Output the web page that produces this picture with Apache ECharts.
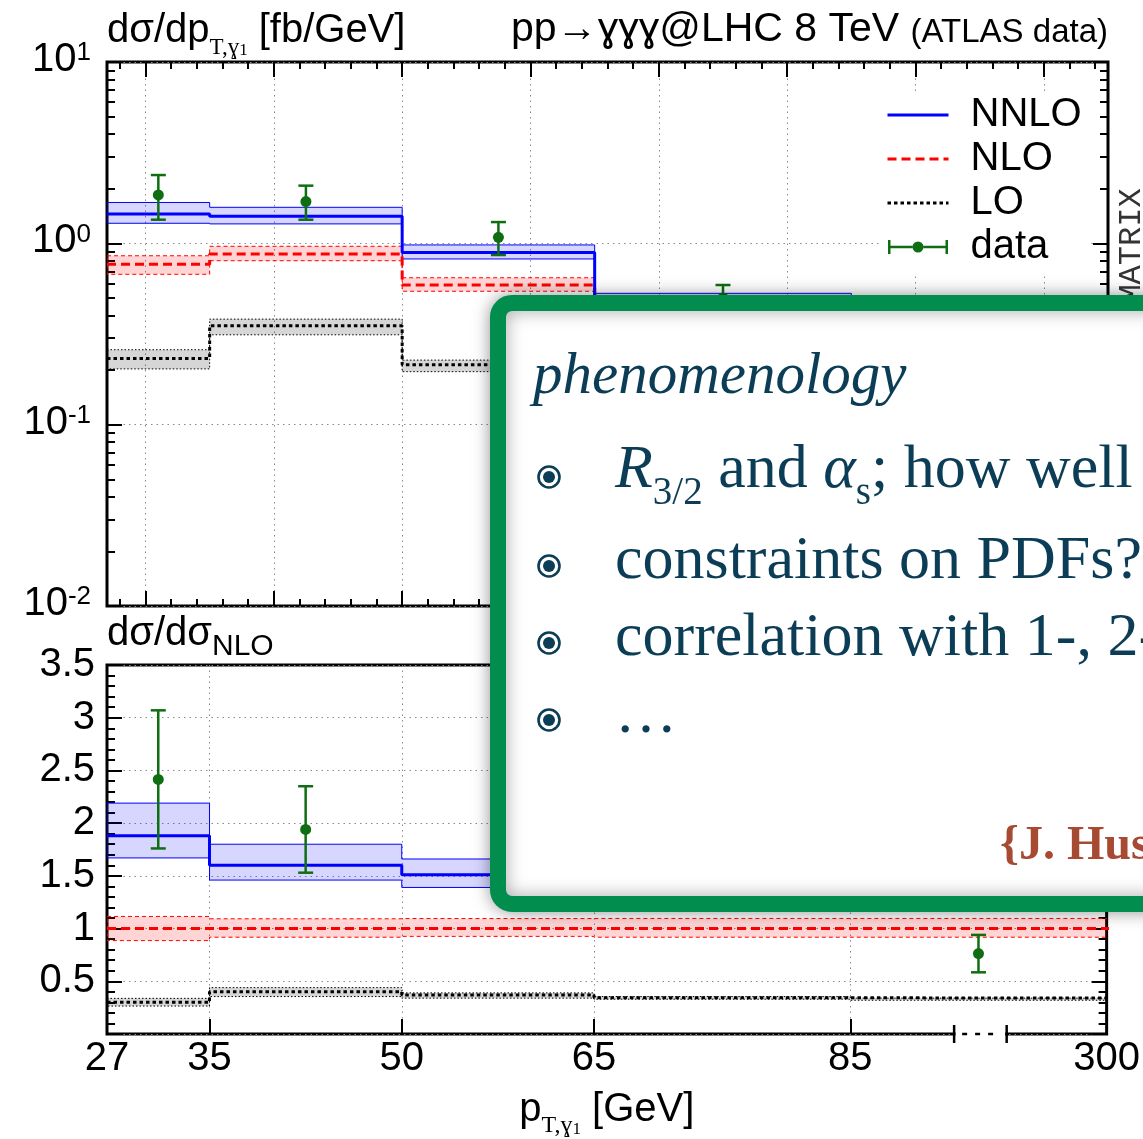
<!DOCTYPE html>
<html><head><meta charset="utf-8">
<script src="https://cdn.jsdelivr.net/npm/echarts@6/dist/echarts.min.js"></script>
<style>html,body{margin:0;padding:0;background:#fff}#c{width:1143px;height:1139px}</style>
</head><body><div id="c"></div><script>
// ---------------- data ----------------
const binEdges = [27, 35, 50, 65, 85, 300];
const dataX = [31, 42.5, 57.5, 75, 95];

// upper panel: d sigma / d pT [fb/GeV]
const nnlo   = [1.45, 1.41, 0.89, 0.48, 0.070];
const nnloLo = [1.29, 1.28, 0.82, 0.44, 0.063];
const nnloHi = [1.68, 1.58, 0.98, 0.53, 0.078];
const nlo    = [0.766, 0.873, 0.589, 0.33, 0.052];
const nloLo  = [0.675, 0.802, 0.544, 0.30, 0.047];
const nloHi  = [0.854, 0.963, 0.646, 0.36, 0.057];
const lo     = [0.232, 0.351, 0.214, 0.113, 0.017];
const loLo   = [0.203, 0.313, 0.196, 0.105, 0.0155];
const loHi   = [0.259, 0.382, 0.227, 0.121, 0.0185];
const dat    = [1.85, 1.70, 1.08, 0.50, 0.040];
const datLo  = [1.35, 1.35, 0.862, 0.42, 0.030];
const datHi  = [2.38, 2.08, 1.31, 0.589, 0.049];

// lower panel: ratio to NLO
const rNnlo   = [1.88, 1.60, 1.51, 1.45, 1.35];
const rNnloLo = [1.67, 1.46, 1.39, 1.33, 1.25];
const rNnloHi = [2.19, 1.80, 1.66, 1.59, 1.50];
const rNlo    = [1, 1, 1, 1, 1];
const rNloLo  = [0.886, 0.918, 0.926, 0.918, 0.918];
const rNloHi  = [1.115, 1.093, 1.095, 1.096, 1.096];
const rLo     = [0.30, 0.40, 0.37, 0.343, 0.33];
const rLoLo   = [0.265, 0.355, 0.34, 0.33, 0.32];
const rLoHi   = [0.338, 0.44, 0.39, 0.355, 0.34];
const rDat    = [2.415, 1.94, 1.83, 1.52, 0.763];
const rDatLo  = [1.76, 1.53, 1.45, 1.27, 0.585];
const rDatHi  = [3.07, 2.35, 2.22, 1.78, 0.94];

// ticks
const xRange = [27, 105];
const topMajorX = [30, 40, 50, 60, 70, 80, 90, 100];
const topMinorX = [28, 30, 32, 34, 36, 38, 40, 42, 44, 46, 48, 50, 52, 54, 56, 58, 60, 62, 64, 66, 68, 70, 72, 74, 76, 78, 80, 82, 84, 86, 88, 90, 92, 94, 96, 98, 100, 102, 104];
const logMajorY = [0.01, 0.1, 1, 10];
const logMajorLabels = ['-2', '-1', '0', '1'];
const logMinorY = [0.02, 0.03, 0.04, 0.05, 0.06, 0.07, 0.08, 0.09, 0.2, 0.3, 0.4, 0.5, 0.6, 0.7, 0.8, 0.9, 2, 3, 4, 5, 6, 7, 8, 9];
const ratioTickY = [0.5, 1, 1.5, 2, 2.5, 3, 3.5];
const ratioTickLabels = ['0.5', '1', '1.5', '2', '2.5', '3', '3.5'];
const botTickX = [35, 50, 65, 85];
const botLabelX = [27, 35, 50, 65, 85, 105];
const botLabelText = ['27', '35', '50', '65', '85', '300'];
const axisBreakAt = [93.1, 97.2];

// ---------------- style ----------------
const SANS = 'Liberation Sans', SERIF = 'Liberation Serif';
const BLUE = '#0000ff', RED = '#ff0000', BLACK = '#000000', GREEN = '#0f6e12';
const TEAL = '#0c3d56';
const gridLine = { color: '#8a8a8a', width: 1, type: [1.5, 4] };
const TICK = { color: '#000', width: 2 };

function xAx(grid, pos, ticks, len, split, extra) {
  return Object.assign({
    type: 'value', gridIndex: grid, position: pos, min: xRange[0], max: xRange[1],
    axisLine: { show: false, onZero: false },
    axisLabel: { show: false },
    axisTick: { show: true, inside: true, length: len, customValues: ticks, lineStyle: TICK },
    splitLine: { show: split, lineStyle: gridLine },
    minorTick: { show: false }
  }, extra || {});
}
function yLog(pos, ticks, len, split, extra) {
  return Object.assign({
    type: 'log', logBase: 10, gridIndex: 0, position: pos, min: 0.01, max: 10,
    axisLine: { show: false, onZero: false },
    axisLabel: { show: false },
    axisTick: { show: true, inside: true, length: len, customValues: ticks, lineStyle: TICK },
    splitLine: { show: split, lineStyle: gridLine },
    minorTick: { show: false }
  }, extra || {});
}
function yRatio(pos, labels) {
  return {
    type: 'value', gridIndex: 1, position: pos, min: 0, max: 3.5, interval: 0.5,
    axisLine: { show: false, onZero: false },
    axisTick: { show: true, inside: true, length: 15, lineStyle: TICK },
    minorTick: { show: true, splitNumber: 5, length: 8, lineStyle: TICK },
    splitLine: { show: labels, lineStyle: gridLine },
    axisLabel: labels ? {
      show: true, customValues: ratioTickY, margin: 12, fontFamily: SANS, fontSize: 40, color: '#000',
      formatter: v => { const i = ratioTickY.findIndex(t => Math.abs(t - v) < 1e-9); return i >= 0 ? ratioTickLabels[i] : ''; }
    } : { show: false }
  };
}

function stepPts(vals) {
  const pts = vals.map((v, i) => [binEdges[i], v]);
  pts.push([binEdges[binEdges.length - 1], vals[vals.length - 1]]);
  return pts;
}
function lineSeries(name, vals, axi, color, type) {
  return {
    name, type: 'line', xAxisIndex: axi[0], yAxisIndex: axi[1], data: stepPts(vals), step: 'end',
    symbol: 'none', showSymbol: false, clip: true, z: 4, silent: true, animation: false,
    lineStyle: { color, width: 3, type, cap: 'butt' }, itemStyle: { color }
  };
}
function bandSeries(name, loV, hiV, axi, stroke, fill, dash) {
  return {
    name, type: 'custom', xAxisIndex: axi[0], yAxisIndex: axi[1], clip: true, z: 3, silent: true,
    data: [[binEdges[0], loV[0]]],
    renderItem: (p, api) => {
      const pts = [];
      for (let i = 0; i < hiV.length; i++) { pts.push(api.coord([binEdges[i], hiV[i]])); pts.push(api.coord([binEdges[i + 1], hiV[i]])); }
      for (let i = loV.length - 1; i >= 0; i--) { pts.push(api.coord([binEdges[i + 1], loV[i]])); pts.push(api.coord([binEdges[i], loV[i]])); }
      return { type: 'polygon', shape: { points: pts }, style: { fill, stroke, lineWidth: 1, lineDash: dash || null } };
    }
  };
}
function errSeries(vals, loV, hiV, axi) {
  return {
    name: 'data', type: 'custom', xAxisIndex: axi[0], yAxisIndex: axi[1], clip: true, z: 5, silent: true,
    itemStyle: { color: GREEN },
    encode: { x: 0, y: [1, 2, 3] },
    data: dataX.map((x, i) => [x, vals[i], loV[i], hiV[i]]),
    renderItem: (p, api) => {
      const c = api.coord([api.value(0), api.value(1)]);
      const l = api.coord([api.value(0), api.value(2)]);
      const h = api.coord([api.value(0), api.value(3)]);
      const cw = 7.5, st = { stroke: GREEN, lineWidth: 2.5 };
      return { type: 'group', children: [
        { type: 'line', shape: { x1: c[0], y1: l[1], x2: c[0], y2: h[1] }, style: st },
        { type: 'line', shape: { x1: c[0] - cw, y1: h[1], x2: c[0] + cw, y2: h[1] }, style: st },
        { type: 'line', shape: { x1: c[0] - cw, y1: l[1], x2: c[0] + cw, y2: l[1] }, style: st },
        { type: 'circle', shape: { cx: c[0], cy: c[1], r: 5.5 }, style: { fill: GREEN } }
      ] };
    }
  };
}

const TOP = [0, 0], BOT = [4, 4];
const series = [
  bandSeries('LO band', loLo, loHi, TOP, BLACK, 'rgba(0,0,0,0.16)', [1.5, 2]),
  bandSeries('NLO band', nloLo, nloHi, TOP, RED, 'rgba(255,0,0,0.17)', [4, 3]),
  bandSeries('NNLO band', nnloLo, nnloHi, TOP, BLUE, 'rgba(0,0,255,0.16)', null),
  lineSeries('LO', lo, TOP, BLACK, [3.5, 3]),
  lineSeries('NLO', nlo, TOP, RED, [9, 5]),
  lineSeries('NNLO', nnlo, TOP, BLUE, 'solid'),
  errSeries(dat, datLo, datHi, TOP),
  bandSeries('LO ratio band', rLoLo, rLoHi, BOT, BLACK, 'rgba(0,0,0,0.16)', [1.5, 2]),
  bandSeries('NLO ratio band', rNloLo, rNloHi, BOT, RED, 'rgba(255,0,0,0.17)', [4, 3]),
  bandSeries('NNLO ratio band', rNnloLo, rNnloHi, BOT, BLUE, 'rgba(0,0,255,0.16)', null),
  lineSeries('LO', rLo, BOT, BLACK, [3.5, 3]),
  lineSeries('NLO', rNlo, BOT, RED, [9, 5]),
  lineSeries('NNLO', rNnlo, BOT, BLUE, 'solid'),
  errSeries(rDat, rDatLo, rDatHi, BOT),
  { // axis break marker on the lower x axis
    name: 'axis break', type: 'custom', xAxisIndex: 4, yAxisIndex: 4, clip: false, z: 6, silent: true,
    data: [[axisBreakAt[0], 0, axisBreakAt[1]]],
    renderItem: (p, api) => {
      const a = api.coord([api.value(0), 0]), b = api.coord([api.value(2), 0]);
      const st = { stroke: '#000', lineWidth: 2.5 };
      return { type: 'group', children: [
        { type: 'rect', shape: { x: a[0] + 1.5, y: a[1] - 3, width: b[0] - a[0] - 3, height: 6 }, style: { fill: '#fff' } },
        { type: 'line', shape: { x1: a[0] + 8, y1: a[1], x2: b[0] - 6, y2: b[1] }, style: { stroke: '#000', lineWidth: 2.5, lineDash: [5, 8] } },
        { type: 'line', shape: { x1: a[0], y1: a[1] - 9, x2: a[0], y2: a[1] + 9 }, style: st },
        { type: 'line', shape: { x1: b[0], y1: b[1] - 9, x2: b[0], y2: b[1] + 9 }, style: st }
      ] };
    }
  }
];

const subSerif = (fs, pad) => ({ fontFamily: SERIF, fontSize: fs, lineHeight: fs, padding: [pad, 0, 0, 0], verticalAlign: 'top', fill: '#000', color: '#000' });
const mainSans = (fs, lh) => ({ fontFamily: SANS, fontSize: fs, lineHeight: lh, verticalAlign: 'top', fill: '#000', color: '#000' });

const boxText = (txt, x, y, extra) => ({
  type: 'text', z: 101, x, y, silent: true,
  style: Object.assign({ text: txt, fill: TEAL, font: '62px "Liberation Serif"', align: 'left', verticalAlign: 'middle' }, extra || {})
});
const bullet = (cy) => ({
  type: 'group', z: 101, silent: true, children: [
    { type: 'circle', z: 101, shape: { cx: 549, cy, r: 10.5 }, style: { fill: '#fff', stroke: TEAL, lineWidth: 2.6 } },
    { type: 'circle', z: 102, shape: { cx: 549, cy, r: 6 }, style: { fill: TEAL } }
  ]
});
const hideSym = { opacity: 0, color: 'rgba(0,0,0,0)', borderWidth: 0 };

const option = {
  animation: false,
  backgroundColor: '#fff',
  grid: [
    { left: 107, top: 62, right: 35, height: 544, show: true, borderColor: '#000', borderWidth: 3, backgroundColor: 'transparent' },
    { left: 107, top: 665, right: 35, height: 371, show: true, borderColor: '#000', borderWidth: 3, backgroundColor: 'transparent' }
  ],
  xAxis: [
    xAx(0, 'bottom', topMajorX, 15, true),
    xAx(0, 'bottom', topMinorX, 7, false),
    xAx(0, 'top', topMajorX, 15, false),
    xAx(0, 'top', topMinorX, 7, false),
    xAx(1, 'bottom', botTickX, 15, true, {
      axisLabel: {
        show: true, customValues: botLabelX, margin: 5, fontFamily: SANS, fontSize: 40, color: '#000',
        formatter: v => { const i = botLabelX.findIndex(t => Math.abs(t - v) < 1e-9); return i >= 0 ? botLabelText[i] : ''; }
      },
      name: '{m|p}{sb|T,ɣ}{ss|1}{m| [GeV]}', nameLocation: 'middle', nameGap: 56,
      nameTextStyle: { rich: { m: mainSans(40, 42), sb: subSerif(24, 24), ss: subSerif(17, 31) } }
    })
  ],
  yAxis: [
    yLog('left', logMajorY, 15, true, {
      axisLabel: {
        show: true, customValues: logMajorY, margin: 16, color: '#000',
        formatter: v => { const i = logMajorY.findIndex(t => Math.abs(Math.log10(t) - Math.log10(v)) < 1e-6); return i >= 0 ? '{b|10}{s|' + logMajorLabels[i] + '}' : ''; },
        rich: { b: { fontFamily: SANS, fontSize: 40, lineHeight: 44, verticalAlign: 'top', color: '#000' },
                s: { fontFamily: SANS, fontSize: 26, lineHeight: 26, verticalAlign: 'top', color: '#000' } }
      }
    }),
    yLog('left', logMinorY, 8, false),
    yLog('right', logMajorY, 15, false),
    yLog('right', logMinorY, 8, false),
    yRatio('left', true),
    yRatio('right', false)
  ],
  legend: {
    show: true, orient: 'vertical', left: 880, top: 91, itemWidth: 61, itemHeight: 14, itemGap: 0,
    padding: [2, 8, 4, 6], backgroundColor: '#fff', selectedMode: false, z: 8,
    lineStyle: { width: 3 },
    textStyle: { fontFamily: SANS, fontSize: 40, color: '#000', lineHeight: 44, padding: [0, 0, 0, 17] },
    data: [
      { name: 'NNLO', itemStyle: hideSym }, { name: 'NLO', itemStyle: hideSym }, { name: 'LO', itemStyle: hideSym },
      { name: 'data', icon: 'path://M0,0h2.5v14h-2.5z M57.5,0h2.5v14h-2.5z M2.5,5.7h22v2.6h-22z M35.5,5.7h22v2.6h-22z M24.5,7a5.5,5.5 0 1,0 11,0a5.5,5.5 0 1,0 -11,0z' }
    ]
  },
  graphic: [
    { type: 'text', x: 107, y: 11, silent: true, style: { text: '{m|dσ/dp}{sb|T,ɣ}{ss|1}{m| [fb/GeV]}', align: 'left', verticalAlign: 'top',
      rich: { m: mainSans(40, 42), sb: subSerif(23, 25), ss: subSerif(17, 31) } } },
    { type: 'text', x: 1108, y: 9, silent: true, style: { text: '{m|pp→ɣɣɣ@LHC 8 TeV }{sm|(ATLAS data)}', align: 'right', verticalAlign: 'top',
      rich: { m: mainSans(41, 42), sm: { fontFamily: SANS, fontSize: 33, lineHeight: 33, padding: [7, 0, 0, 0], verticalAlign: 'top', fill: '#000' } } } },
    { type: 'text', x: 107, y: 614, silent: true, style: { text: '{m|dσ/dσ}{sb|NLO}', align: 'left', verticalAlign: 'top',
      rich: { m: mainSans(40, 42), sb: { fontFamily: SANS, fontSize: 30, lineHeight: 30, padding: [18, 0, 0, 0], verticalAlign: 'top', fill: '#000' } } } },
    { type: 'text', x: 1132, y: 246, rotation: Math.PI / 2, silent: true,
      style: { text: 'MATRIX', font: '32px "Liberation Mono"', fill: '#333', align: 'center', verticalAlign: 'middle' } },
    // overlay slide box
    { type: 'rect', z: 100, silent: true, shape: { x: 498, y: 303, width: 720, height: 601, r: 14 },
      style: { fill: '#fff', stroke: '#008d4e', lineWidth: 16, shadowBlur: 18, shadowColor: 'rgba(0,0,0,0.35)' } },
    boxText('phenomenology', 533, 377, { font: 'italic 59px "Liberation Serif"' }),
    bullet(477), bullet(566), bullet(643), bullet(720),
    { type: 'text', z: 101, x: 615, y: 440, silent: true, style: {
      text: '{i|R}{sb|3/2}{n| and }{i|α}{sb|s}{n|; how well}', align: 'left', verticalAlign: 'top',
      rich: {
        i: { fontFamily: SERIF, fontStyle: 'italic', fontSize: 62, lineHeight: 64, verticalAlign: 'top', fill: TEAL },
        n: { fontFamily: SERIF, fontSize: 62, lineHeight: 64, verticalAlign: 'top', fill: TEAL },
        sb: { fontFamily: SERIF, fontSize: 39, lineHeight: 39, padding: [34, 0, 0, 0], verticalAlign: 'top', fill: TEAL }
      } } },
    boxText('constraints on PDFs?', 615, 562),
    boxText('correlation with 1-, 2-', 615, 639),
    boxText('…', 615, 716),
    boxText('{J. Hus', 1000, 847, { font: 'bold 48px "Liberation Serif"', fill: '#a64a32' })
  ],
  series
};

const chart = echarts.init(document.getElementById('c'), null, { renderer: 'canvas' });
chart.setOption(option);
</script></body></html>
